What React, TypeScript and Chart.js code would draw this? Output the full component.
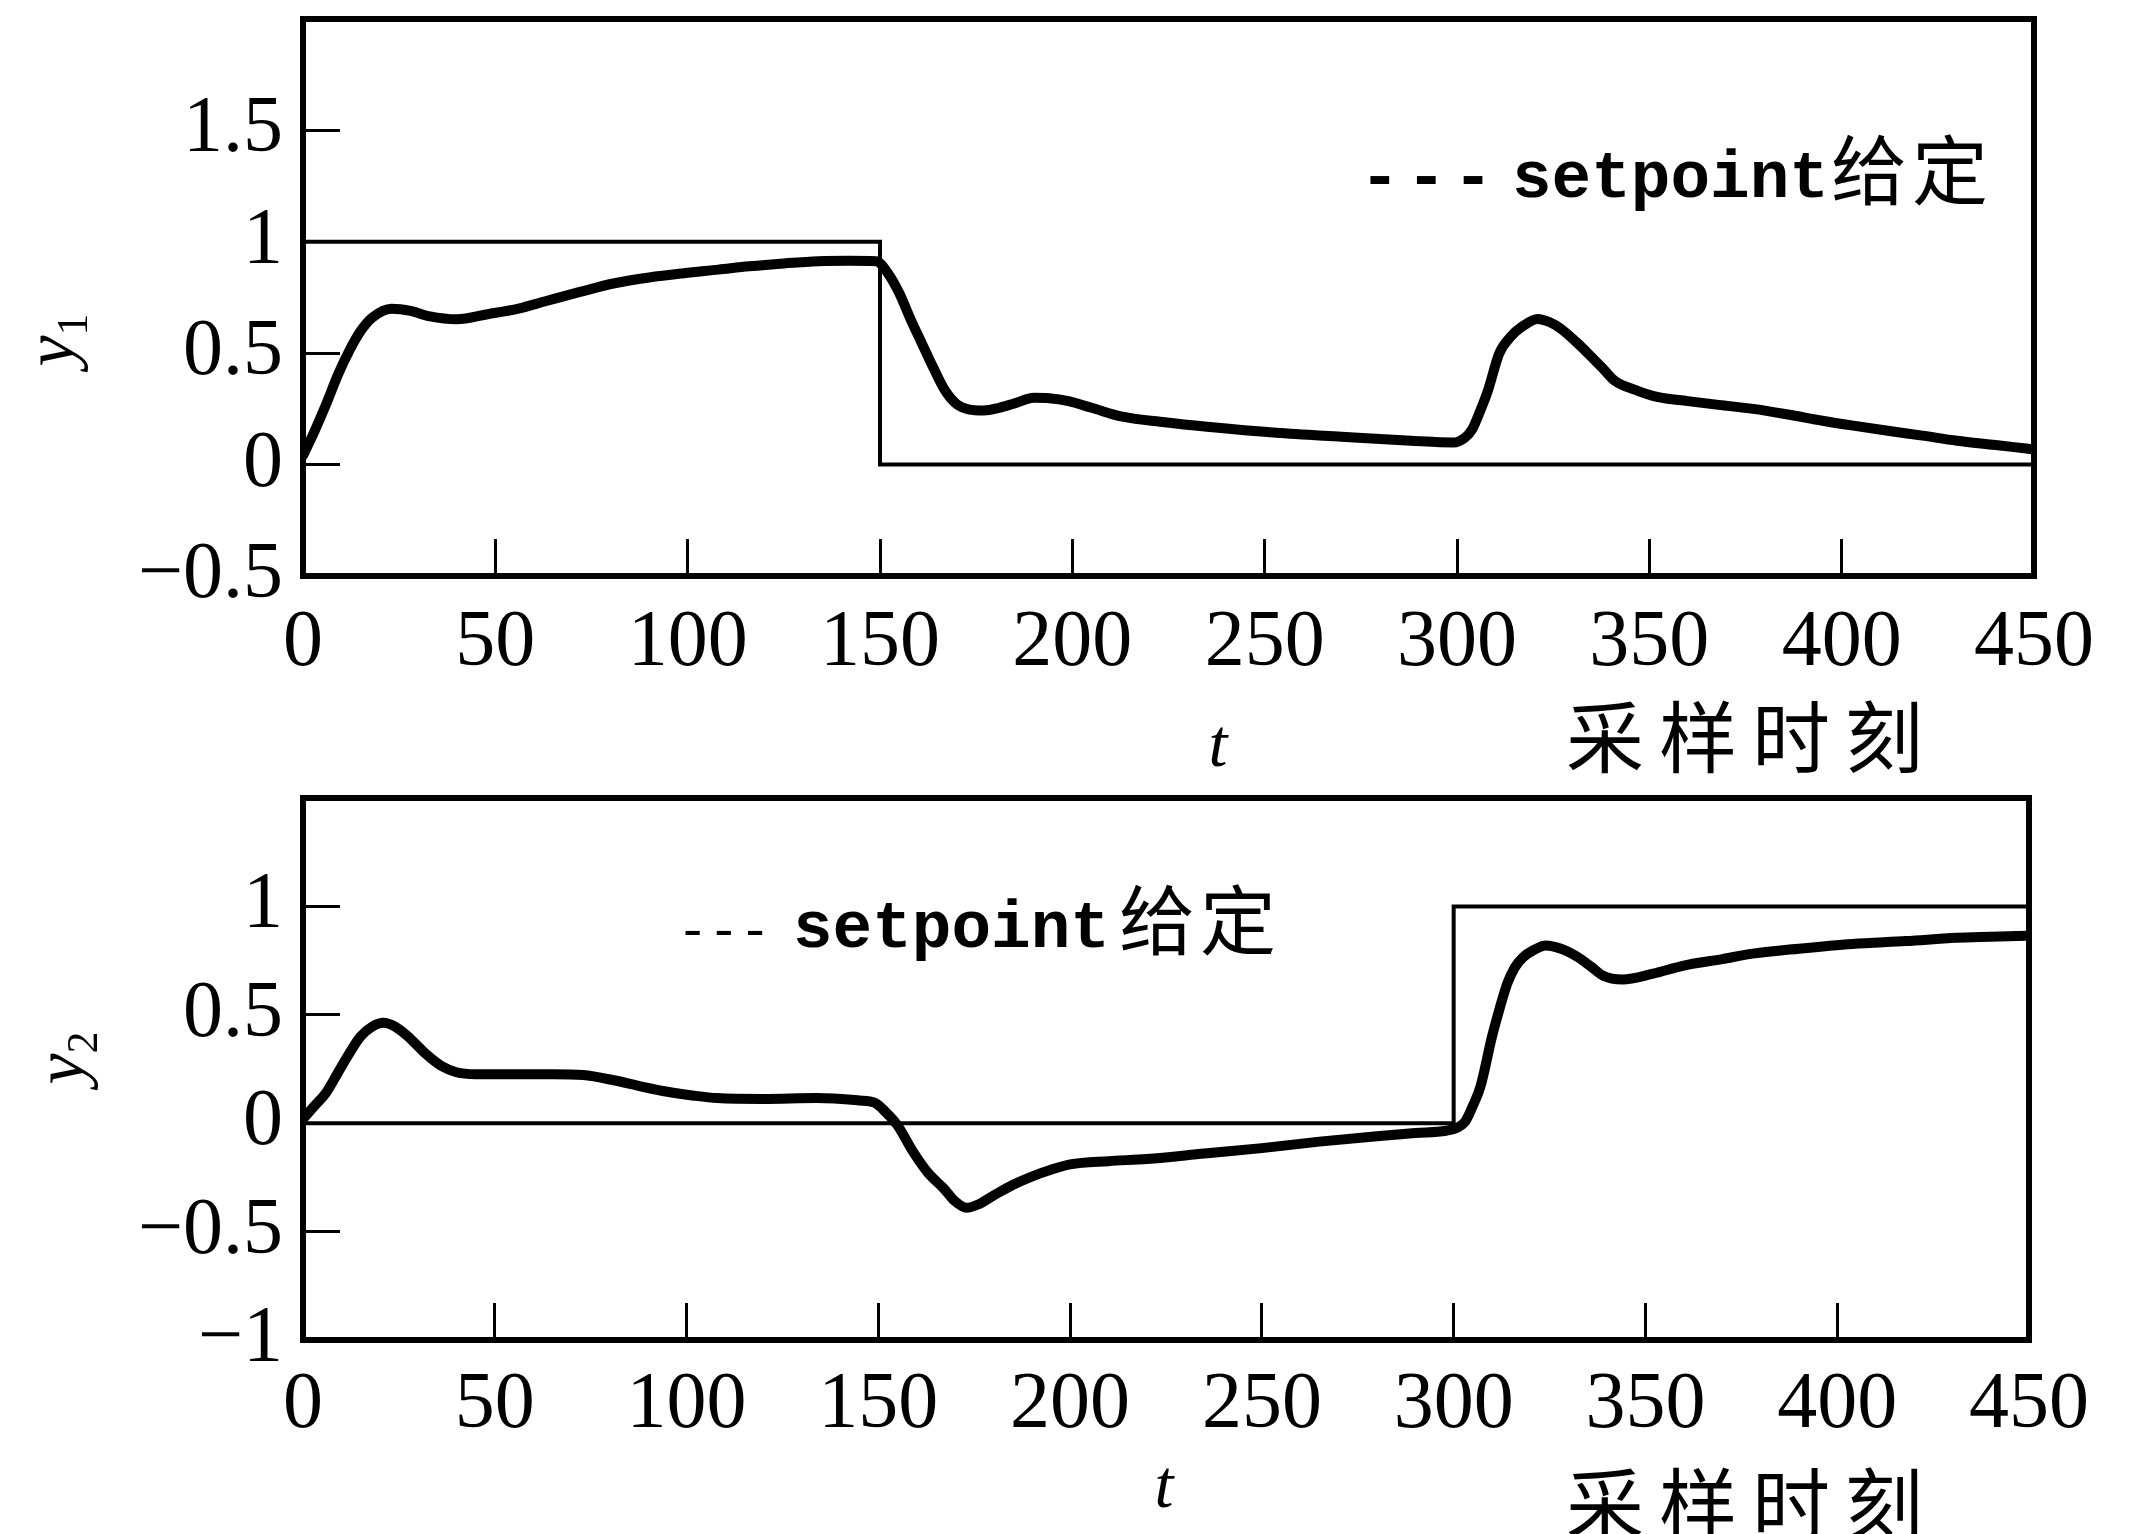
import React, { useEffect, useRef } from "react";
import { Chart, registerables } from "chart.js";

Chart.register(...registerables);

// ---------- data ----------
const tTicks = [0, 50, 100, 150, 200, 250, 300, 350, 400, 450];
const y1Ticks = [-0.5, 0, 0.5, 1, 1.5];
const y2Ticks = [-1, -0.5, 0, 0.5, 1];

// y1 : setpoint (step) and output
const y1SetT = [0, 150, 150, 450];
const y1SetV = [1, 1, 0, 0];
const y1T = [0, 3, 6, 9, 12, 15, 18, 23, 28, 33, 40, 48, 56, 63, 72, 81, 90, 99, 108, 116, 125, 134, 142, 149, 152, 155, 158, 161, 164, 167, 170, 173, 177, 181, 185, 190, 194, 199, 205, 213, 224, 235, 253, 270, 288, 299, 302, 304, 306, 308, 311, 314, 317, 321, 324, 327, 331, 334, 338, 341, 347, 352, 360, 368, 377, 386, 395, 403, 412, 421, 430, 440, 448, 450];
const y1V = [0.04, 0.15, 0.27, 0.4, 0.51, 0.6, 0.66, 0.7, 0.69, 0.665, 0.652, 0.675, 0.7, 0.733, 0.775, 0.814, 0.84, 0.859, 0.875, 0.89, 0.903, 0.913, 0.915, 0.913, 0.86, 0.77, 0.65, 0.54, 0.43, 0.33, 0.27, 0.248, 0.243, 0.255, 0.275, 0.3, 0.298, 0.285, 0.255, 0.215, 0.19, 0.17, 0.143, 0.125, 0.107, 0.099, 0.12, 0.16, 0.24, 0.33, 0.5, 0.575, 0.62, 0.654, 0.64, 0.61, 0.55, 0.5, 0.43, 0.376, 0.331, 0.304, 0.285, 0.268, 0.25, 0.225, 0.197, 0.175, 0.152, 0.13, 0.107, 0.088, 0.072, 0.068];

// y2 : setpoint (step) and output
const y2SetT = [0, 300, 300, 450];
const y2SetV = [0, 0, 1, 1];
const y2T = [0, 3, 6, 9, 12, 15, 18, 21, 24, 28, 32, 36, 40, 45, 55, 65, 73, 81, 88, 95, 102, 108, 120, 134, 145, 149, 152, 155, 159, 163, 167, 170, 173, 176, 180, 185, 190, 195, 200, 210, 220, 235, 250, 265, 280, 290, 298, 301, 303, 305, 307, 310, 312, 314, 316, 318, 321, 324, 328, 332, 336, 339, 344, 352, 360, 370, 378, 390, 404, 418, 431, 440, 450];
const y2V = [0.02, 0.08, 0.14, 0.23, 0.32, 0.4, 0.445, 0.463, 0.445, 0.39, 0.32, 0.265, 0.235, 0.226, 0.226, 0.226, 0.222, 0.198, 0.17, 0.145, 0.127, 0.116, 0.112, 0.116, 0.105, 0.095, 0.05, -0.01, -0.13, -0.23, -0.3, -0.36, -0.39, -0.375, -0.334, -0.285, -0.246, -0.215, -0.19, -0.175, -0.165, -0.14, -0.115, -0.085, -0.06, -0.045, -0.035, -0.02, 0.007, 0.08, 0.17, 0.4, 0.53, 0.645, 0.72, 0.764, 0.8, 0.82, 0.805, 0.77, 0.72, 0.68, 0.663, 0.69, 0.727, 0.757, 0.782, 0.805, 0.827, 0.84, 0.855, 0.86, 0.865];

const legendText = ["---", "setpoint", "给定"];
const xTitleLatin = "t";
const xTitleCJK = "采样时刻";

// ---------- drawing helpers ----------
const SERIF = '"Liberation Serif", "DejaVu Serif", serif';
const MONO = '"Liberation Mono", "DejaVu Sans Mono", monospace';
const CJK = '"Noto Sans CJK SC", sans-serif';

function drawText(ctx: any, text: string, x: number, y: number, font: string, spacing = 0, align = "left", baseline = "alphabetic") {
  ctx.font = font;
  ctx.textAlign = align;
  ctx.textBaseline = baseline;
  try { ctx.letterSpacing = spacing + "px"; } catch (e) {}
  ctx.fillText(text, x, y);
  try { ctx.letterSpacing = "0px"; } catch (e) {}
}

const decorPlugin = {
  id: "decor",
  afterDraw(chart: any, _args: any, o: any) {
    const { ctx, chartArea: a } = chart;
    ctx.save();
    // frame
    ctx.strokeStyle = "#000";
    ctx.lineWidth = 6;
    ctx.strokeRect(a.left, a.top, a.right - a.left, a.bottom - a.top);
    ctx.fillStyle = "#000";

    // x axis titles
    drawText(ctx, xTitleLatin, o.tX, o.tY, `italic 68px ${SERIF}`, 0, "center", "middle");
    drawText(ctx, xTitleCJK, o.cjkX + 7, o.cjkY, `78px ${CJK}`, 15, "center", "middle");

    // y axis title (rotated)
    ctx.save();
    ctx.translate(o.yX, o.yY);
    ctx.rotate(-Math.PI / 2);
    ctx.font = `italic 70px ${SERIF}`;
    const wy = ctx.measureText("y").width;
    ctx.font = `44px ${SERIF}`;
    const ws = ctx.measureText(o.sub).width;
    const total = wy + ws;
    drawText(ctx, "y", -total / 2, 8, `italic 70px ${SERIF}`);
    drawText(ctx, o.sub, -total / 2 + wy, 22, `44px ${SERIF}`);
    ctx.restore();

    // legend text
    const L = o.legend;
    drawText(ctx, legendText[0], L.dashX, L.base, `${L.dashBold ? "bold " : ""}${L.dashSize}px ${MONO}`, L.dashSpacing);
    drawText(ctx, legendText[1], L.textX, L.base, `bold 66px ${MONO}`);
    drawText(ctx, legendText[2], L.cjkX, L.base + 2, `76px ${CJK}`, 5);
    ctx.restore();
  },
};

const fmt = (v: number) => (v < 0 ? "\u2212" + Math.abs(v) : String(v));

const zeroPad = (s: any) => {
  s.paddingTop = 0;
  s.paddingBottom = 0;
  s.paddingLeft = 0;
  s.paddingRight = 0;
};

function makeChart(canvas: HTMLCanvasElement, spec: any) {
  const tickFont = { family: SERIF, size: 80 };
  const grid = {
    display: true,
    drawOnChartArea: false,
    drawTicks: true,
    tickLength: -37,
    tickWidth: 3,
    tickColor: "#000",
  };
  const border = { display: true, color: "#000", width: 6 };
  return new Chart(canvas, {
    type: "line",
    data: {
      datasets: [
        {
          label: "setpoint",
          data: spec.setT.map((t: number, i: number) => ({ x: t, y: spec.setV[i] })),
          borderColor: "#000",
          borderWidth: 4,
          pointRadius: 0,
          tension: 0,
          order: 2,
        },
        {
          label: "output",
          data: spec.outT.map((t: number, i: number) => ({ x: t, y: spec.outV[i] })),
          borderColor: "#000",
          borderWidth: 10,
          pointRadius: 0,
          cubicInterpolationMode: "monotone",
          borderJoinStyle: "round",
          borderCapStyle: "round",
          order: 1,
        },
      ],
    },
    options: {
      responsive: false,
      animation: false,
      devicePixelRatio: 1,
      layout: { padding: { top: spec.padTop, right: spec.padRight, left: 0, bottom: 0 } },
      plugins: {
        legend: { display: false },
        tooltip: { enabled: false },
        decor: spec.decor,
      },
      scales: {
        x: {
          type: "linear",
          min: 0,
          max: 450,
          afterBuildTicks: (s: any) => {
            s.ticks = tTicks.map((v) => ({ value: v }));
          },
          afterFit: (s: any) => {
            s.height = spec.xAxisH;
            zeroPad(s);
          },
          ticks: {
            autoSkip: false,
            maxRotation: 0,
            padding: spec.xPad,
            color: "#000",
            font: tickFont,
            callback: (v: any) => String(v),
          },
          grid,
          border,
        },
        y: {
          type: "linear",
          min: spec.yMin,
          max: spec.yMax,
          afterBuildTicks: (s: any) => {
            s.ticks = spec.yTicks.map((v: number) => ({ value: v }));
          },
          afterFit: (s: any) => {
            s.width = 303;
            zeroPad(s);
          },
          ticks: {
            padding: 57,
            color: "#000",
            font: tickFont,
            callback: (v: any) => fmt(Number(v)),
          },
          grid,
          border,
        },
      },
    } as any,
    plugins: [decorPlugin as any],
  });
}

const topSpec = {
  setT: y1SetT, setV: y1SetV, outT: y1T, outV: y1V,
  yMin: -0.5, yMax: 2, yTicks: y1Ticks,
  padTop: 19, padRight: 106, xAxisH: 785 - 576, xPad: 57,
  decor: {
    tX: 1218, tY: 748, cjkX: 1745, cjkY: 737,
    yX: 65, yY: 340, sub: "1",
    legend: { dashX: 1360, dashSize: 66, dashBold: true, dashSpacing: 7, textX: 1512, cjkX: 1831, base: 197 },
  },
};

const botSpec = {
  setT: y2SetT, setV: y2SetV, outT: y2T, outV: y2V,
  yMin: -1, yMax: 1.5, yTicks: y2Ticks,
  padTop: 13, padRight: 111, xAxisH: 749 - 555, xPad: 55,
  decor: {
    tX: 1164, tY: 704, cjkX: 1745, cjkY: 719,
    yX: 75, yY: 273, sub: "2",
    legend: { dashX: 677, dashSize: 52, dashBold: false, dashSpacing: 0, textX: 793, cjkX: 1119, base: 162 },
  },
};

export default function App() {
  const topRef = useRef<HTMLCanvasElement>(null);
  const botRef = useRef<HTMLCanvasElement>(null);
  useEffect(() => {
    const c1 = makeChart(topRef.current as HTMLCanvasElement, topSpec);
    const c2 = makeChart(botRef.current as HTMLCanvasElement, botSpec);
    return () => {
      c1.destroy();
      c2.destroy();
    };
  }, []);
  return (
    <div style={{ position: "absolute", left: 0, top: 0, width: 2140, height: 1534, background: "#fff", overflow: "hidden" }}>
      <canvas ref={topRef} width={2140} height={785} style={{ position: "absolute", left: 0, top: 0, width: 2140, height: 785 }} />
      <canvas ref={botRef} width={2140} height={749} style={{ position: "absolute", left: 0, top: 785, width: 2140, height: 749 }} />
    </div>
  );
}
